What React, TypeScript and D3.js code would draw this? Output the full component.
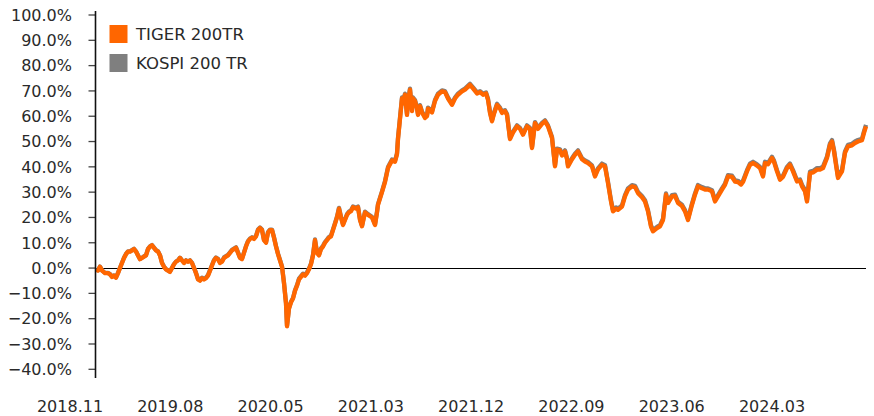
import React from "react";
import * as d3 from "d3";

// trading-day index since 2018.11
const days = [
  0, 4, 8, 12, 18, 24, 28, 32, 36, 40,
  44, 48, 52, 56, 60, 64, 68, 72, 76, 80,
  84, 88, 92, 96, 100, 104, 108, 112, 116, 120,
  124, 128, 132, 136, 140, 144, 148, 152, 156, 160,
  164, 168, 172, 176, 180, 184, 188, 192, 196, 200,
  204, 208, 212, 216, 220, 224, 228, 232, 236, 240,
  244, 248, 252, 256, 260, 264, 268, 272, 276, 280,
  284, 288, 292, 296, 300, 304, 308, 312, 316, 320,
  324, 328, 332, 336, 340, 344, 348, 352, 356, 360,
  364, 368, 372, 376, 380, 382, 386, 390, 394, 398,
  402, 406, 410, 414, 418, 422, 426, 430, 434, 438,
  442, 446, 450, 454, 458, 462, 466, 470, 474, 478,
  482, 486, 490, 494, 498, 502, 506, 510, 514, 520,
  524, 528, 532, 538, 544, 552, 558, 562, 564, 572,
  578, 584, 592, 598, 602, 604, 608, 612, 614, 618,
  622, 624, 628, 632, 634, 638, 642, 644, 648, 652,
  658, 662, 664, 672, 678, 684, 692, 698, 704, 712,
  718, 724, 732, 738, 748, 754, 762, 768, 774, 780,
  784, 788, 792, 796, 802, 808, 812, 818, 822, 828,
  834, 842, 848, 854, 862, 868, 872, 876, 878, 884,
  892, 898, 904, 912, 918, 922, 928, 932, 938, 942,
  944, 952, 958, 964, 972, 978, 984, 992, 998, 1004,
  1012, 1018, 1024, 1030, 1034, 1040, 1044, 1052, 1058, 1064,
  1072, 1078, 1084, 1092, 1098, 1104, 1110, 1114, 1122, 1128,
  1134, 1140, 1144, 1152, 1158, 1164, 1172, 1178, 1184, 1192,
  1198, 1204, 1212, 1218, 1224, 1232, 1238, 1244, 1252, 1258,
  1264, 1272, 1278, 1284, 1290, 1294, 1302, 1308, 1314, 1322,
  1328, 1334, 1338, 1344, 1352, 1356, 1362, 1368, 1374, 1382,
  1388, 1394, 1402, 1408, 1412, 1418, 1422, 1428, 1434, 1442,
  1448, 1454, 1462, 1468, 1472, 1476, 1480, 1484, 1492, 1498,
  1504, 1512, 1518, 1524, 1532, 1536, 1540,
];

const tiger = [
  -0.5, -1, 0.5, -1, -2, -2, -2.5, -3.5, -3, -3.8,
  -2, 0, 2, 4, 5.5, 6.5, 6.5, 7, 7.5, 6.5,
  5, 3.5, 4, 4.5, 5, 7.5, 8.5, 9, 8, 7,
  6.5, 5, 2, 0.5, -0.5, -1, -1.5, 0, 1.5, 2.5,
  3, 4, 3, 2, 3, 2.5, 3, 2, 0, -2,
  -4.5, -5, -4, -4.5, -4, -3, -1, 1, 3, 4,
  3.5, 2, 2.5, 4, 4.5, 5, 6, 7, 7.5, 8,
  6, 4, 3.5, 6, 8.5, 10.5, 11.5, 12, 11.5, 12.5,
  15, 15.8, 15, 11, 10, 14, 15, 15, 12, 8.5,
  5.5, 3, 0.5, -6, -14, -23, -16, -13.5, -12, -9,
  -7, -4.5, -3.5, -2.5, -3, -2, -0.5, 1.5, 5, 11,
  6, 5, 7.5, 8.5, 10, 11, 12, 12.5, 15, 17.5,
  20, 23.5, 20, 17, 19, 21, 22, 22.5, 24, 23.5,
  24, 19, 16.5, 22, 21, 20, 17, 22, 25, 30,
  34, 39.5, 42.5, 42, 45, 51, 59, 67, 65, 68.5,
  60.5, 65.5, 70.5, 62, 67, 66, 63, 60.5, 64, 61.5,
  59.3, 60, 63, 61.5, 66, 68.5, 69.8, 69.5, 67, 64.5,
  67, 68.5, 69.8, 70.5, 72.4, 71, 69, 69.5, 68.5, 69,
  66.5, 61.3, 58, 61, 64.5, 63, 61.3, 62, 60.5, 51,
  53.5, 56, 55, 52.7, 56, 55, 47.4, 54, 57.3, 55,
  57, 58, 56, 51.4, 40.2, 46.8, 46.5, 44.5, 46.1, 43,
  40.2, 43, 44.8, 46.1, 43, 42.1, 41.5, 40.2, 36.2, 39,
  40.8, 40.2, 33.6, 26.3, 22.4, 23.5, 23, 24.3, 28.3, 31,
  32.3, 32, 29.6, 28, 26.3, 22.4, 16.4, 14.5, 15.8, 16.5,
  19, 29, 25.7, 28.3, 28.5, 25.7, 24.5, 22.4, 19, 25,
  29, 32.3, 31.5, 31, 31, 30.3, 26.3, 28.3, 31, 32.9,
  36.2, 36, 34.2, 34, 33, 34, 38.2, 40.8, 41.5, 40.5,
  39.5, 36.2, 41.5, 41, 43.5, 42, 38.2, 34.9, 36, 39.5,
  40.8, 38.2, 34.2, 34.5, 32.3, 30.3, 26.3, 37.5, 37.8, 38.9,
  38.9, 39.5, 43.5, 48.7, 50, 46.1, 40.8, 35.6, 38.2, 45.5,
  48.1, 48.5, 49.4, 50, 50.5, 53.4, 56,
];

const kospi = [
  -0.4, -0.9, 0.6, -0.9, -1.9, -1.9, -2.4, -3.4, -2.9, -3.7,
  -1.9, 0.1, 2.1, 4.1, 5.6, 6.6, 6.6, 7.1, 7.6, 6.6,
  5.1, 3.6, 4.1, 4.6, 5.1, 7.6, 8.6, 9.1, 8.1, 7.1,
  6.6, 5.1, 2.1, 0.6, -0.4, -0.9, -1.4, 0.1, 1.6, 2.6,
  3.1, 4.1, 3.1, 2.1, 3.1, 2.6, 3.1, 2.1, 0.1, -1.9,
  -4.3, -4.8, -3.8, -4.3, -3.8, -2.8, -0.8, 1.2, 3.2, 4.2,
  3.7, 2.2, 2.7, 4.2, 4.7, 5.2, 6.2, 7.2, 7.7, 8.2,
  6.2, 4.2, 3.7, 6.2, 8.7, 10.7, 11.7, 12.2, 11.7, 12.7,
  15.2, 16, 15.2, 11.2, 10.2, 14.2, 15.2, 15.2, 12.2, 8.7,
  5.7, 3.2, 0.7, -5.8, -13.8, -22.8, -15.8, -13.3, -11.8, -8.8,
  -6.7, -4.2, -3.2, -2.2, -2.7, -1.7, -0.2, 1.8, 5.3, 11.3,
  6.3, 5.3, 7.8, 8.8, 10.3, 11.3, 12.3, 12.8, 15.3, 17.8,
  20.3, 23.8, 20.3, 17.3, 19.3, 21.3, 22.3, 22.8, 24.3, 23.8,
  24.3, 19.3, 16.8, 22.3, 21.3, 20.3, 17.3, 22.3, 25.3, 30.3,
  34.4, 39.9, 42.9, 42.4, 45.4, 51.4, 59.4, 67.4, 65.4, 68.9,
  60.9, 65.9, 70.9, 62.4, 67.4, 66.4, 63.4, 60.9, 64.4, 61.9,
  59.7, 60.4, 63.4, 61.9, 66.4, 68.9, 70.2, 69.9, 67.4, 64.9,
  67.4, 68.9, 70.2, 70.9, 72.8, 71.4, 69.4, 69.9, 68.9, 69.4,
  66.9, 61.7, 58.4, 61.4, 64.9, 63.4, 61.7, 62.4, 60.9, 51.4,
  53.9, 56.4, 55.4, 53.1, 56.4, 55.4, 47.8, 54.4, 57.7, 55.4,
  57.4, 58.4, 56.4, 51.8, 40.6, 47.2, 46.9, 44.9, 46.5, 43.4,
  40.6, 43.4, 45.2, 46.5, 43.4, 42.5, 41.9, 40.6, 36.6, 39.4,
  41.3, 40.7, 34.1, 26.8, 22.9, 24, 23.5, 24.8, 28.8, 31.5,
  32.8, 32.5, 30.1, 28.5, 26.8, 22.9, 16.9, 15, 16.3, 17,
  19.5, 29.5, 26.2, 28.8, 29, 26.2, 25, 22.9, 19.5, 25.5,
  29.5, 32.8, 32, 31.5, 31.5, 30.8, 26.8, 28.8, 31.5, 33.4,
  36.7, 36.5, 34.7, 34.5, 33.5, 34.5, 38.7, 41.3, 42, 41,
  40, 36.7, 42, 41.5, 44, 42.5, 38.7, 35.4, 36.5, 40,
  41.3, 38.7, 34.7, 35, 32.9, 30.9, 26.9, 38.1, 38.4, 39.5,
  39.5, 40.1, 44.1, 49.3, 50.6, 46.7, 41.4, 36.2, 38.8, 46.1,
  48.7, 49.1, 50, 50.6, 51.1, 54, 56.6,
];

const xLabels = ["2018.11", "2019.08", "2020.05", "2021.03", "2021.12", "2022.09", "2023.06", "2024.03"];
const yTicks = [100, 90, 80, 70, 60, 50, 40, 30, 20, 10, 0, -10, -20, -30, -40];
const seriesNames = ["TIGER 200TR", "KOSPI 200 TR"];

const W = 874;
const H = 416;
const ORANGE = "#FF6600";
const GRAY = "#7F7F7F";
const FONT = "'DejaVu Sans', sans-serif";

export default function App() {
  const n = Math.min(days.length, tiger.length, kospi.length);
  const x = d3.scaleLinear().domain([0, days[n - 1]]).range([96, 866]);
  const y = d3.scaleLinear().domain([-40, 100]).range([369.3, 15]);
  const xl = d3.scalePoint<string>().domain(xLabels).range([70, 772]);

  const idx = d3.range(n);
  const mk = (vals: number[]) =>
    d3
      .line<number>()
      .x((i) => x(days[i]))
      .y((i) => y(vals[i]))(idx) || "";

  const fmt = (v: number) => (v < 0 ? "\u2212" + Math.abs(v).toFixed(1) : v.toFixed(1)) + "%";
  const y0 = Math.round(y(0)) + 0.5;

  return (
    <svg
      width={W}
      height={H}
      style={{ position: "absolute", left: 0, top: 0, background: "#fff" }}
      fontFamily={FONT}
    >
      <rect x={0} y={0} width={W} height={H} fill="#fff" />
      {/* y ticks & labels */}
      {yTicks.map((t) => (
        <g key={t}>
          <line x1={88.5} x2={95.5} y1={y(t)} y2={y(t)} stroke="#444" strokeWidth={1.3} />
          <text x={72} y={y(t)} dy="0.36em" textAnchor="end" fontSize={16} fill="#2a2a2a">
            {fmt(t)}
          </text>
        </g>
      ))}
      {/* zero line */}
      <line x1={95.5} x2={866} y1={y0} y2={y0} stroke="#000" strokeWidth={1} />
      {/* series */}
      <path d={mk(kospi)} fill="none" stroke={GRAY} strokeWidth={4.3} strokeLinejoin="round" />
      <path d={mk(tiger)} fill="none" stroke={ORANGE} strokeWidth={4.3} strokeLinejoin="round" />
      {/* y axis line */}
      <line x1={95.5} x2={95.5} y1={11} y2={378} stroke="#111" strokeWidth={1.6} />
      {/* x labels */}
      {xLabels.map((l) => (
        <text key={l} x={xl(l)} y={411.5} textAnchor="middle" fontSize={16} fill="#2a2a2a">
          {l}
        </text>
      ))}
      {/* legend */}
      {seriesNames.map((s, i) => (
        <g key={s}>
          <rect x={109.5} y={25 + i * 29} width={18} height={18} fill={i === 0 ? ORANGE : GRAY} />
          <text x={136} y={40 + i * 29} fontSize={16.5} fill="#2a2a2a">
            {s}
          </text>
        </g>
      ))}
    </svg>
  );
}
